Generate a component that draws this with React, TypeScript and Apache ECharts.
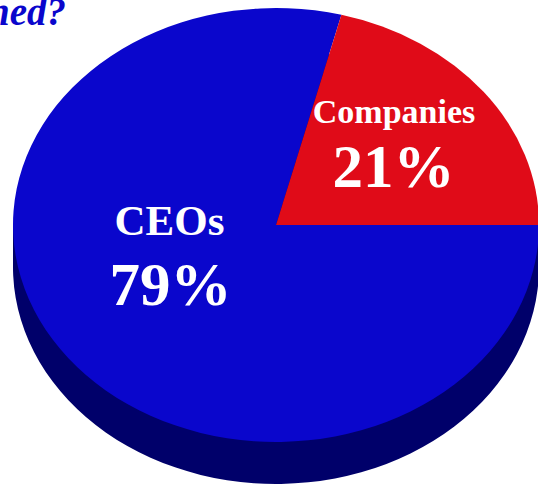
import React, { useEffect, useRef } from "react";
import * as echarts from "echarts";

const categories = ["CEOs", "Companies"];
const shares = [79, 21];
const sliceColors = ["#0a06cc", "#e00b18"];
const sideColor = "#00006a";
const titleFragment = "ned?";

const W = 538;
const H = 484;
const RX = 263;
const RY = 217;
const SY = RY / RX; // the pie is tilted: the whole chart is squashed vertically by this factor
const CX = 276;
const CY = 225;
const DEPTH = 42;
const FONT = '"Liberation Serif", "Times New Roman", serif';
const BASELINE = 0.86; // distance from a text's top to its baseline, in font sizes

// positions are page pixels (centre x, baseline y); converted into the squashed chart's coordinates
const labelPos = [
  { name: [169.5, 236], val: [170.5, 306], nameSize: 43 },
  { name: [394, 124], val: [393.5, 188], nameSize: 34 },
];
const VALUE_SIZE = 61;
const TITLE_SIZE = 39;

function txt(text: string, x: number, y: number, size: number, extra: object = {}, fill = "#ffffff") {
  return {
    type: "text",
    x,
    y: (y - size * BASELINE) / SY,
    scaleY: 1 / SY,
    z: 10,
    silent: true,
    style: {
      text,
      fill,
      font: `bold ${size}px ${FONT}`,
      textAlign: "center",
      ...extra,
    },
  };
}

export default function App() {
  const ref = useRef<HTMLDivElement>(null);
  useEffect(() => {
    document.body.style.margin = "0";
    const chart = echarts.init(ref.current!, undefined, { renderer: "svg" });
    const pieData = categories.map((name, i) => ({
      name,
      value: shares[i],
      itemStyle: { color: sliceColors[i] },
    }));
    const sideData = categories.map((name, i) => ({
      name,
      value: shares[i],
      itemStyle: { color: sideColor },
    }));
    const labels: any[] = [];
    categories.forEach((name, i) => {
      const p = labelPos[i];
      labels.push(txt(name, p.name[0], p.name[1], p.nameSize));
      labels.push(txt(`${shares[i]}%`, p.val[0], p.val[1], VALUE_SIZE));
    });
    chart.setOption({
      animation: false,
      backgroundColor: "#ffffff",
      graphic: [
        {
          type: "rect",
          z: 1,
          silent: true,
          shape: { x: CX - RX, y: CY / SY, width: 2 * RX, height: DEPTH / SY },
          style: { fill: sideColor },
        },
        txt(
          titleFragment,
          66,
          26,
          TITLE_SIZE,
          { textAlign: "right", font: `italic bold ${TITLE_SIZE}px ${FONT}` },
          "#0a06cc"
        ),
        ...labels,
      ],
      series: [
        {
          type: "pie",
          z: 1,
          silent: true,
          center: [CX, (CY + DEPTH) / SY],
          radius: [0, RX],
          startAngle: 0,
          label: { show: false },
          labelLine: { show: false },
          data: sideData,
        },
        {
          type: "pie",
          z: 2,
          silent: true,
          center: [CX, CY / SY],
          radius: [0, RX],
          startAngle: 0,
          label: { show: false },
          labelLine: { show: false },
          data: pieData,
        },
      ],
    });
    return () => chart.dispose();
  }, []);
  return (
    <div style={{ width: W, height: H, overflow: "hidden", background: "#fff" }}>
      <div
        ref={ref}
        style={{
          width: W,
          height: H / SY,
          transform: `scaleY(${SY})`,
          transformOrigin: "0 0",
        }}
      />
    </div>
  );
}
